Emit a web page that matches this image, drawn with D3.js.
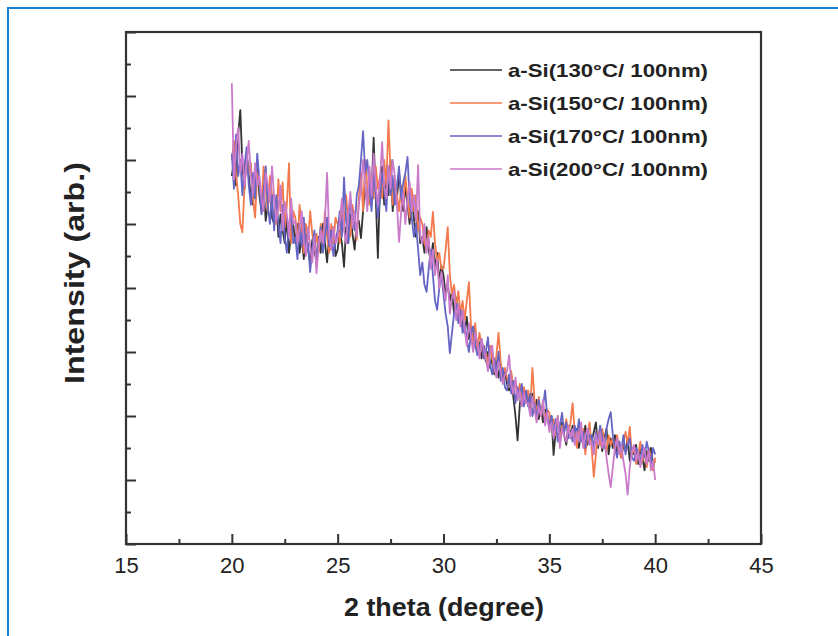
<!DOCTYPE html>
<html>
<head>
<meta charset="utf-8">
<script src="https://cdn.jsdelivr.net/npm/d3@7"></script>
<style>
  body { margin: 0; background: #fff; }
  svg { display: block; }
</style>
</head>
<body>
<svg width="838" height="636"></svg>
<script>
// 2 theta from 20 to 40 in 0.1 degree steps
const thetaStart = 20, thetaStep = 0.1;

const labels = ["a-Si(130\u00B0C/ 100nm)", "a-Si(150\u00B0C/ 100nm)", "a-Si(170\u00B0C/ 100nm)", "a-Si(200\u00B0C/ 100nm)"];
const colors = ["#333333", "#f4794c", "#6565c6", "#c97ac9"];

const xTicks = [15, 20, 25, 30, 35, 40, 45];
const xMinor = [17.5, 22.5, 27.5, 32.5, 37.5, 42.5];
const yTicks = [0, 100, 200, 300, 400, 500, 600, 700, 800];
const yMinor = [50, 150, 250, 350, 450, 550, 650, 750];

const s130 = [
  575,600,560,640,678,590,555,610,575,540,
  530,575,600,545,520,560,505,530,565,510,
  500,535,480,515,490,470,510,455,485,500,
  470,500,455,480,445,490,460,440,475,455,
  445,480,455,500,470,440,485,460,495,450,
  460,490,470,433,495,470,515,485,460,500,
  505,478,520,560,530,575,545,635,540,447,
  560,590,530,575,545,600,520,565,540,580,
  545,520,560,530,500,540,510,480,520,470,
  480,455,495,460,440,470,430,455,410,435,
  420,390,405,380,395,360,385,350,370,340,
  330,355,320,340,305,325,300,315,290,310,
  285,300,275,295,265,285,260,280,255,270,
  250,240,265,230,200,162,215,245,225,235,
  230,210,235,205,225,195,215,190,210,200,
  185,200,139,175,195,165,190,170,155,185,
  170,185,160,180,150,175,165,185,155,170,
  160,175,190,150,170,145,165,180,140,165,
  150,170,140,160,135,155,145,165,130,150,
  140,155,125,150,135,115,145,130,150,125,
  130
];
const s150 = [
  600,630,575,545,500,487,560,610,580,595,
  540,510,580,560,530,590,555,520,575,545,
  545,500,570,520,565,495,530,595,470,520,
  510,470,530,490,455,500,475,520,485,460,
  485,455,500,470,520,480,455,500,470,510,
  500,470,520,495,545,500,480,530,510,475,
  540,580,520,600,560,530,575,540,590,555,
  575,540,600,560,662,580,530,570,545,520,
  560,530,575,540,510,555,520,545,490,510,
  500,470,460,490,480,519,470,440,455,430,
  430,460,495,420,390,405,370,395,360,380,
  350,380,409,340,315,345,300,330,310,290,
  300,280,310,290,270,295,330,285,265,275,
  260,245,270,235,255,225,250,230,245,220,
  240,215,275,225,205,230,200,220,195,210,
  205,180,195,170,200,160,185,175,195,170,
  190,220,175,150,185,165,180,140,170,190,
  150,105,140,175,155,180,160,145,170,155,
  165,145,170,150,135,160,175,155,183,140,
  150,125,140,160,130,145,120,150,135,115,
  135
];
const s170 = [
  610,555,640,575,600,545,590,620,560,530,
  580,540,610,570,515,550,590,530,500,545,
  490,545,500,470,530,480,455,500,520,470,
  480,445,500,465,510,455,470,425,460,490,
  440,470,495,455,480,510,465,490,450,475,
  490,520,480,573,505,470,540,510,490,545,
  560,600,645,580,600,560,520,580,545,510,
  540,580,555,520,590,545,575,530,560,590,
  540,565,580,605,540,510,480,500,460,420,
  440,405,394,430,460,420,380,366,400,420,
  390,360,340,298,330,360,375,345,365,330,
  345,320,300,330,340,310,295,308,320,290,
  300,323,280,265,290,270,300,255,275,245,
  240,265,235,255,220,245,230,250,215,240,
  215,235,200,220,195,225,205,215,240,200,
  180,200,170,195,160,185,205,175,190,165,
  175,160,185,170,195,160,175,150,180,165,
  170,150,175,160,185,165,150,180,195,206,
  170,150,135,160,145,170,140,155,165,135,
  130,150,140,125,155,135,160,145,125,150,
  140
];
const s200 = [
  720,570,620,650,580,610,560,595,630,575,
  545,595,560,575,540,520,580,560,535,590,
  540,505,525,560,490,535,515,480,540,500,
  505,470,490,520,475,450,495,465,440,480,
  423,465,490,470,505,580,480,460,495,470,
  480,505,540,490,470,515,550,495,520,480,
  530,555,600,565,520,590,545,610,560,530,
  570,628,560,540,590,555,600,575,530,472,
  520,550,500,540,565,520,545,505,592,480,
  470,500,455,480,430,460,420,445,400,425,
  400,380,420,360,385,395,350,375,340,365,
  335,310,345,325,300,330,315,290,320,305,
  290,270,300,310,275,260,285,270,250,265,
  270,295,250,235,260,225,240,215,235,220,
  220,200,230,210,190,215,200,225,185,205,
  175,190,165,185,200,150,180,170,160,185,
  165,180,155,175,160,190,150,170,180,155,
  160,140,170,155,175,150,165,135,110,89,
  120,150,165,140,155,130,110,77,120,145,
  155,130,145,120,140,150,125,145,115,130,
  100
];
const seriesValues = [s130, s150, s170, s200];

const svg = d3.select("svg");
const margin = { top: 32, right: 77, bottom: 92, left: 126 };
const width = 838, height = 636;
const font = "Liberation Sans, Arial, sans-serif";

// blue frame around the figure
svg.append("path")
  .attr("d", `M8,${height} V8 H${width}`)
  .attr("fill", "none")
  .attr("stroke", "#1b80d2")
  .attr("stroke-width", 2);

const x = d3.scaleLinear().domain([15, 45]).range([margin.left, width - margin.right]);
const y = d3.scaleLinear().domain([0, 800]).range([height - margin.bottom, margin.top]);

const line = d3.line()
  .x((d, i) => x(thetaStart + i * thetaStep))
  .y(d => y(d));

svg.selectAll(".series")
  .data(seriesValues)
  .join("path")
  .attr("class", "series")
  .attr("fill", "none")
  .attr("stroke", (d, i) => colors[i])
  .attr("stroke-width", 1.8)
  .attr("stroke-linejoin", "round")
  .attr("d", line);

// axes, ticks point inwards
const xAxis = svg.append("g")
  .attr("transform", `translate(0,${y(0)})`)
  .call(d3.axisBottom(x).tickValues(xTicks).tickSize(-10).tickPadding(13).tickFormat(d3.format("d")));
svg.append("g")
  .attr("transform", `translate(0,${y(0)})`)
  .call(d3.axisBottom(x).tickValues(xMinor).tickSize(-5).tickFormat(""));
svg.append("g")
  .attr("transform", `translate(${x(15)},0)`)
  .call(d3.axisLeft(y).tickValues(yTicks).tickSize(-10).tickFormat(""));
svg.append("g")
  .attr("transform", `translate(${x(15)},0)`)
  .call(d3.axisLeft(y).tickValues(yMinor).tickSize(-5).tickFormat(""));

svg.selectAll(".domain").remove();
svg.selectAll(".tick line").attr("stroke", "#333").attr("stroke-width", 2);
xAxis.selectAll("text")
  .attr("font-family", font)
  .attr("font-size", 22)
  .attr("fill", "#222");

svg.append("rect")
  .attr("x", x(15)).attr("y", y(800))
  .attr("width", x(45) - x(15)).attr("height", y(0) - y(800))
  .attr("fill", "none")
  .attr("stroke", "#333")
  .attr("stroke-width", 2.2);

svg.append("text")
  .attr("x", 344)
  .attr("y", 616)
  .attr("font-family", font)
  .attr("font-weight", "bold")
  .attr("font-size", 25)
  .attr("textLength", 200)
  .attr("lengthAdjust", "spacingAndGlyphs")
  .attr("fill", "#222")
  .text("2 theta (degree)");

svg.append("text")
  .attr("transform", "translate(84,384) rotate(-90)")
  .attr("font-family", font)
  .attr("font-weight", "bold")
  .attr("font-size", 27)
  .attr("textLength", 222)
  .attr("lengthAdjust", "spacingAndGlyphs")
  .attr("fill", "#222")
  .text("Intensity (arb.)");

// legend
const legend = svg.append("g").attr("transform", "translate(450,70)");
const rows = legend.selectAll("g")
  .data(labels)
  .join("g")
  .attr("transform", (d, i) => `translate(0,${i * 33})`);
rows.append("line")
  .attr("x1", 0).attr("x2", 52)
  .attr("stroke", (d, i) => colors[i])
  .attr("stroke-width", 1.6);
rows.append("text")
  .attr("x", 58)
  .attr("y", 7)
  .attr("font-family", font)
  .attr("font-weight", "bold")
  .attr("font-size", 19)
  .attr("textLength", 200)
  .attr("lengthAdjust", "spacingAndGlyphs")
  .attr("fill", "#222")
  .text(d => d);
</script>
</body>
</html>
